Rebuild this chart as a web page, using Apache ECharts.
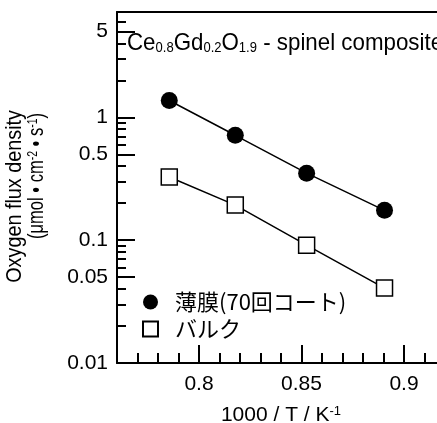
<!DOCTYPE html>
<html>
<head>
<meta charset="utf-8">
<script src="https://cdn.jsdelivr.net/npm/echarts@6/dist/echarts.min.js"></script>
<style>
html,body{margin:0;padding:0;background:#fff;}
#main{width:437px;height:423px;}
</style>
</head>
<body>
<div id="main"></div>
<script>
// データ (1000/T と 酸素透過流束)
var xVals = [0.7855, 0.8177, 0.8525, 0.8905];
var filmVals = [1.37, 0.714, 0.351, 0.175];
var bulkVals = [0.327, 0.193, 0.091, 0.0407];
var seriesNames = ['薄膜(70回コート)', 'バルク'];
var xMajor = [0.8, 0.85, 0.9];
var yMajor = [0.01, 0.05, 0.1, 0.5, 1, 5];
var yMinor = [0.02, 0.03, 0.04, 0.06, 0.07, 0.08, 0.09,
              0.2, 0.3, 0.4, 0.6, 0.7, 0.8, 0.9,
              2, 3, 4, 6];

var FONT = '"Liberation Sans", Arial, sans-serif';
var CJK = '"Noto Sans CJK JP", "Liberation Sans", sans-serif';

function pairs(xs, ys){
    var out = [];
    for (var i = 0; i < xs.length; i++) out.push([xs[i], ys[i]]);
    return out;
}

var chart = echarts.init(document.getElementById('main'), null, {renderer:'canvas'});
var blackLine = {color:'#000', width:2};

chart.setOption({
    animation:false,
    grid:{left:117, top:12, width:328, bottom:60, containLabel:false, outerBoundsMode:'none'},
    xAxis:[
        {
            type:'value', min:0.76, max:0.92, position:'bottom',
            axisLine:{show:true, onZero:false, lineStyle:blackLine},
            axisTick:{show:true, inside:true, length:18, customValues:xMajor, lineStyle:blackLine},
            axisLabel:{customValues:xMajor, color:'#000', fontSize:21, fontFamily:FONT, margin:11},
            splitLine:{show:false},
            name:'1000 / T / K{sup|-1}', nameLocation:'middle', nameGap:42,
            nameTextStyle:{color:'#000', fontSize:21, fontFamily:FONT,
                rich:{sup:{fontSize:13, verticalAlign:'top', color:'#000', fontFamily:FONT}}}
        },
        {
            type:'value', min:0.76, max:0.92, interval:0.01, position:'bottom',
            axisLine:{show:false, onZero:false},
            axisTick:{show:true, inside:true, length:10, lineStyle:blackLine},
            axisLabel:{show:false}, splitLine:{show:false}
        },
        {
            type:'value', min:0.76, max:0.92, position:'top',
            axisLine:{show:true, onZero:false, lineStyle:blackLine},
            axisTick:{show:false}, axisLabel:{show:false}, splitLine:{show:false}
        }
    ],
    yAxis:[
        {
            type:'log', logBase:10, min:0.01, max:7.2, position:'left',
            axisLine:{show:true, onZero:false, lineStyle:blackLine},
            axisTick:{show:true, inside:true, length:18, customValues:yMajor, lineStyle:blackLine},
            axisLabel:{customValues:yMajor, color:'#000', fontSize:21, fontFamily:FONT, margin:9,
                padding:[0,0,5,0]},
            splitLine:{show:false}
        },
        {
            type:'log', logBase:10, min:0.01, max:7.2, position:'left',
            axisLine:{show:false, onZero:false},
            axisTick:{show:true, inside:true, length:9, customValues:yMinor, lineStyle:blackLine},
            axisLabel:{show:false}, splitLine:{show:false}
        }
    ],
    legend:{
        orient:'vertical', left:137, top:286, itemWidth:15, itemHeight:15, itemGap:5,
        selectedMode:false,
        data:[{name:seriesNames[0], icon:'circle'}, {name:seriesNames[1], icon:'rect'}],
        textStyle:{color:'#000', fontSize:22, fontFamily:CJK, padding:[0,0,0,12]}
    },
    graphic:[
        {
            type:'text', x:127, y:43, scaleX:0.93,
            style:{
                text:'Ce{sub|0.8}Gd{sub|0.2}O{sub|1.9} - spinel composite',
                fill:'#000', font:'24px ' + FONT, verticalAlign:'middle',
                rich:{sub:{fontSize:14, verticalAlign:'bottom', fontFamily:FONT, fill:'#000'}}
            }
        },
        {
            type:'text', x:15, y:110, rotation:Math.PI/2, scaleX:0.9,
            style:{text:'Oxygen flux density', fill:'#000', font:'22px ' + FONT,
                align:'right', verticalAlign:'middle'}
        },
        {
            type:'text', x:37, y:113, rotation:Math.PI/2, scaleX:0.75,
            style:{
                text:'(μmol • cm{sup|-2} • s{sup|-1})', fill:'#000', font:'22px ' + FONT,
                align:'right', verticalAlign:'middle',
                rich:{sup:{fontSize:14, verticalAlign:'top', fontFamily:FONT, fill:'#000'}}
            }
        }
    ],
    series:[
        {
            name:seriesNames[0], type:'line', xAxisIndex:0, yAxisIndex:0,
            data:pairs(xVals, filmVals),
            symbol:'circle', symbolSize:17,
            lineStyle:{color:'#000', width:1.5},
            itemStyle:{color:'#000'}
        },
        {
            name:seriesNames[1], type:'line', xAxisIndex:0, yAxisIndex:0,
            data:pairs(xVals, bulkVals),
            symbol:'rect', symbolSize:16,
            lineStyle:{color:'#000', width:1.5},
            itemStyle:{color:'#fff', borderColor:'#000', borderWidth:1.5}
        }
    ]
});
</script>
</body>
</html>
